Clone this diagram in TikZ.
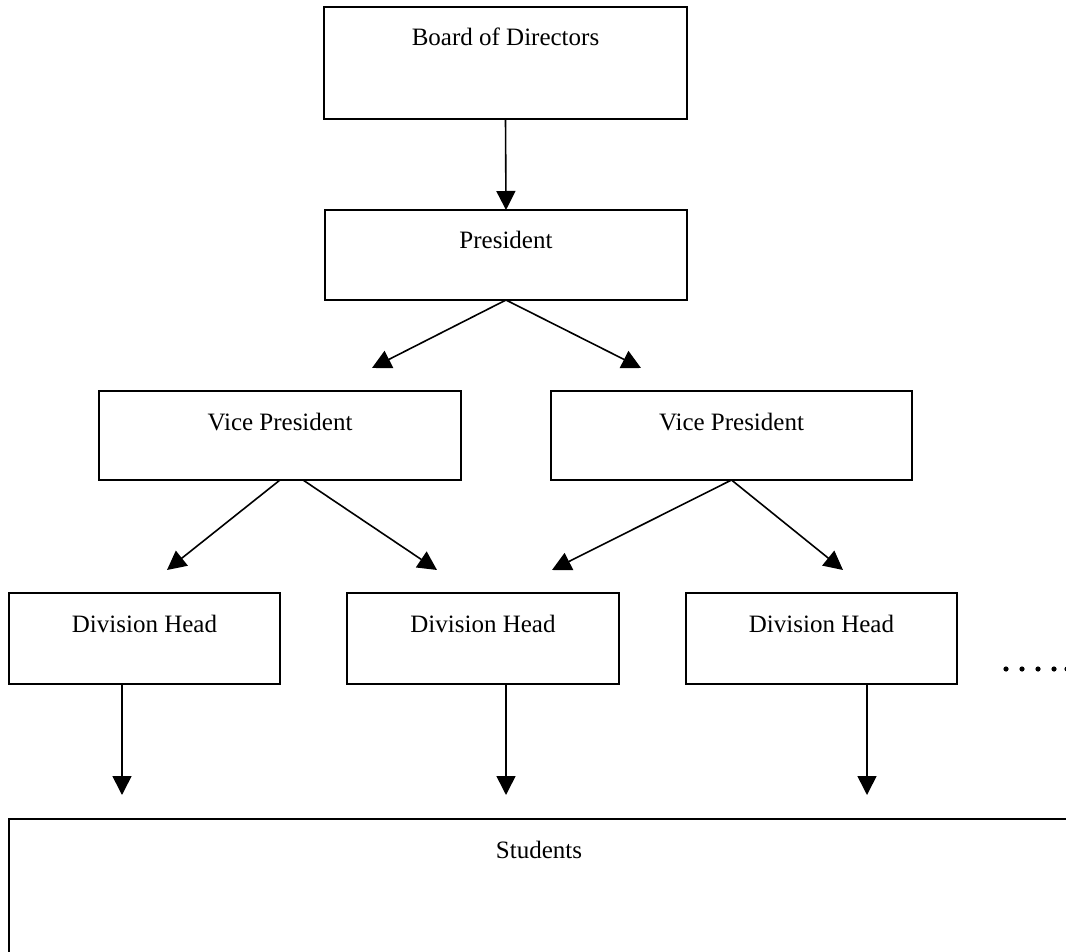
\documentclass[tikz,border=0pt]{standalone}
\usepackage{fontspec}
\setmainfont{Liberation Serif}
\usetikzlibrary{arrows.meta}
\begin{document}
\begin{tikzpicture}[x=1pt,y=-1pt,
  box/.style={draw, line width=1.6pt, anchor=north west, inner xsep=0pt, inner ysep=0pt, outer sep=0pt, text height=39pt, font=\fontsize{25}{30}\selectfont},
  conn/.style={line width=1.6pt, -{Triangle[length=19pt,width=19pt]}},
  dotmark/.style={fill=black}]
\useasboundingbox (0,0) rectangle (1066,952);
\clip (0,0) rectangle (1066,952);
% boxes
\node[box, minimum width=363pt, text depth=73pt] (board) at (324,7) {Board of Directors};
\node[box, minimum width=362pt, text depth=51pt] (pres) at (325,210) {President};
\node[box, minimum width=362pt, text depth=50pt] (vpl) at (99,391) {Vice President};
\node[box, minimum width=361pt, text depth=50pt] (vpr) at (551,391) {Vice President};
\node[box, minimum width=271pt, text depth=52pt] (dha) at (9,593) {Division Head};
\node[box, minimum width=272pt, text depth=52pt] (dhb) at (347,593) {Division Head};
\node[box, minimum width=271pt, text depth=52pt] (dhc) at (686,593) {Division Head};
\node[box, minimum width=1060pt, text depth=161pt] (stud) at (9,819) {Students};
% free arrow ends
\coordinate (t1) at (372,368);
\coordinate (t2) at (641,368);
\coordinate (t3) at (167,570);
\coordinate (t4) at (437,570);
\coordinate (t5) at (552,570);
\coordinate (t6) at (843,570);
\coordinate (t7) at (122,795);
\coordinate (t8) at (506,795);
\coordinate (t9) at (867,795);
% connectors
\draw[conn] (board.south) -- (pres.north);
\draw[conn] (pres.south) -- (t1);
\draw[conn] (pres.south) -- (t2);
\draw[conn] (vpl.south) -- (t3);
\draw[conn] ([xshift=23pt]vpl.south) -- (t4);
\draw[conn] (vpr.south) -- (t5);
\draw[conn] (vpr.south) -- (t6);
\draw[conn] (dha.south -| t7) -- (t7);
\draw[conn] (dhb.south -| t8) -- (t8);
\draw[conn] (dhc.south -| t9) -- (t9);
% continuation dots
\foreach \dx in {1006,1022,1038,1054,1067}
  \fill[dotmark] (\dx,669) circle (2.6pt);
\end{tikzpicture}
\end{document}
